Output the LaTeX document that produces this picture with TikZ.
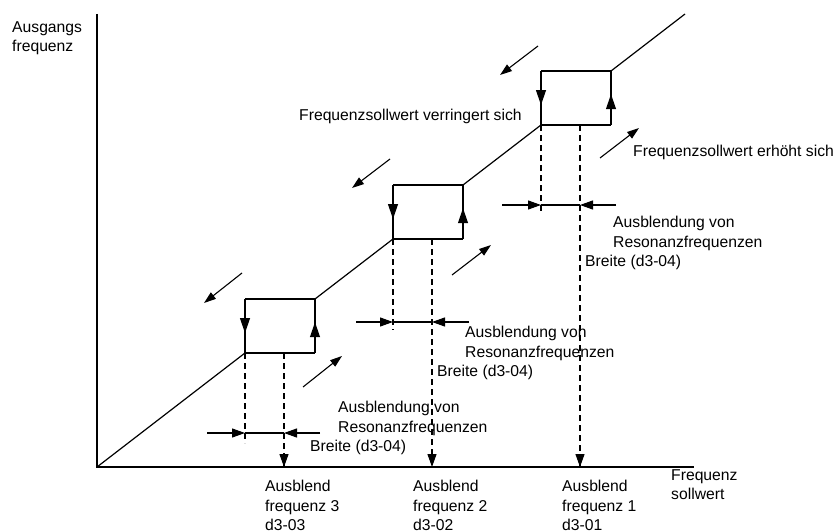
\documentclass[tikz,border=0pt]{standalone}
\usepackage{fontspec}
\setmainfont{Liberation Sans}
\usetikzlibrary{arrows.meta,decorations.markings}
\begin{document}
\begin{tikzpicture}[x=1pt,y=-1pt,
  curve/.style={line width=1.2pt},
  guide/.style={line width=1.1pt, dash pattern=on 6pt off 4pt},
  tip/.style={-{Triangle[length=13pt,width=9pt]}},
  dirarrow/.style={line width=1.1pt, -{Triangle[length=12pt,width=8pt]}},
  midtip/.style={postaction={decorate}, decoration={markings,
      mark=at position #1 with {\arrow{Triangle[length=15pt,width=10pt]}}}},
  lbl/.style={anchor=base west, inner sep=0pt, font=\fontsize{15.7}{19}\selectfont}]
\useasboundingbox (0,0) rectangle (838,532);

% axes
\coordinate (O) at (97,467);
\coordinate (Ytop) at (97,14);
\coordinate (Xend) at (694,467);
\draw[curve] (Ytop) -- (O) -- (Xend);

% step corners of the output characteristic
\coordinate (B3bl) at (245,353); \coordinate (B3tl) at (245,299);
\coordinate (B3tr) at (315,299); \coordinate (B3br) at (315,353);
\coordinate (B2bl) at (393,239); \coordinate (B2tl) at (393,185);
\coordinate (B2tr) at (463,185); \coordinate (B2br) at (463,239);
\coordinate (B1bl) at (541,125); \coordinate (B1tl) at (541,71);
\coordinate (B1tr) at (611,71);  \coordinate (B1br) at (611,125);
\coordinate (Tend) at (685,14);

% rising characteristic between the jump bands
\draw[curve] (O) -- (B3bl);
\draw[curve] (B3tr) -- (B2bl);
\draw[curve] (B2tr) -- (B1bl);
\draw[curve] (B1tr) -- (Tend);

% jump bands: down on the left edge, up on the right edge
\foreach \b in {B3,B2,B1} {
  \draw[curve] (\b tl) -- (\b tr);
  \draw[curve] (\b bl) -- (\b br);
  \draw[curve, midtip=0.63] (\b tl) -- (\b bl);
  \draw[curve, midtip=0.57] (\b br) -- (\b tr);
}

% dashed guides to the axis
\coordinate (G3a) at (245,443); \coordinate (F3top) at (284,353); \coordinate (F3) at (284,467);
\coordinate (G2a) at (393,330); \coordinate (F2top) at (432,239); \coordinate (F2) at (432,467);
\coordinate (G1a) at (541,213); \coordinate (F1top) at (580,125); \coordinate (F1) at (580,467);
\draw[guide] (B3bl) -- (G3a);
\draw[guide] (B2bl) -- (G2a);
\draw[guide] (B1bl) -- (G1a);
\draw[guide] (F3top) -- (F3);
\draw[guide] (F2top) -- (F2);
\draw[guide] (F1top) -- (F1);
\draw[tip, line width=1.1pt] (284,455) -- (F3);
\draw[tip, line width=1.1pt] (432,455) -- (F2);
\draw[tip, line width=1.1pt] (580,455) -- (F1);

% band width markers
\foreach \l/\a/\c/\r/\y in {207/245/284/320/433, 356/393/432/469/322, 502/541/580/616/205} {
  \coordinate (wl) at (\l,\y); \coordinate (wa) at (\a,\y);
  \coordinate (wc) at (\c,\y); \coordinate (wr) at (\r,\y);
  \draw[line width=1.1pt] (wa) -- (wc);
  \draw[tip, line width=1.1pt] (wl) -- (wa);
  \draw[tip, line width=1.1pt] (wr) -- (wc);
}

% direction of the set value
\foreach \i/\sx/\sy/\ex/\ey in {d1/242/273/204/303, d2/390/159/352/188, d3/538/46/500/75} {
  \coordinate (\i s) at (\sx,\sy); \coordinate (\i e) at (\ex,\ey);
  \draw[dirarrow] (\i s) -- (\i e);
}
\foreach \i/\sx/\sy/\ex/\ey in {u1/303/387/342/356, u2/452/275/491/245, u3/600/158/639/128} {
  \coordinate (\i s) at (\sx,\sy); \coordinate (\i e) at (\ex,\ey);
  \draw[dirarrow] (\i s) -- (\i e);
}

% axis titles
\node[lbl] (yl1) at (12,32.5) {Ausgangs};
\node[lbl] (yl2) at (12,52) {frequenz};
\node[lbl] (xl1) at (671,480.5) {Frequenz};
\node[lbl] (xl2) at (671,499) {sollwert};

% direction texts
\node[lbl] (dec) at (299,121) {Frequenzsollwert verringert sich};
\node[lbl] (inc) at (633,157) {Frequenzsollwert erhöht sich};

% band width texts
\foreach \n/\x/\bx/\y in {c1/613/585/227, c2/465/437/337, c3/338/310/412} {
  \node[lbl] (\n a) at (\x,\y) {Ausblendung von};
  \node[lbl] (\n b) at (\x,\y+20) {Resonanzfrequenzen};
  \node[lbl] (\n c) at (\bx,\y+39) {Breite (d3-04)};
}

% jump frequency texts
\foreach \n/\x/\k in {f3/265/3, f2/413/2, f1/562/1} {
  \node[lbl] (\n a) at (\x,491.5) {Ausblend};
  \node[lbl] (\n b) at (\x,511) {frequenz \k};
  \node[lbl] (\n c) at (\x,530) {d3-0\k};
}
\end{tikzpicture}
\end{document}
